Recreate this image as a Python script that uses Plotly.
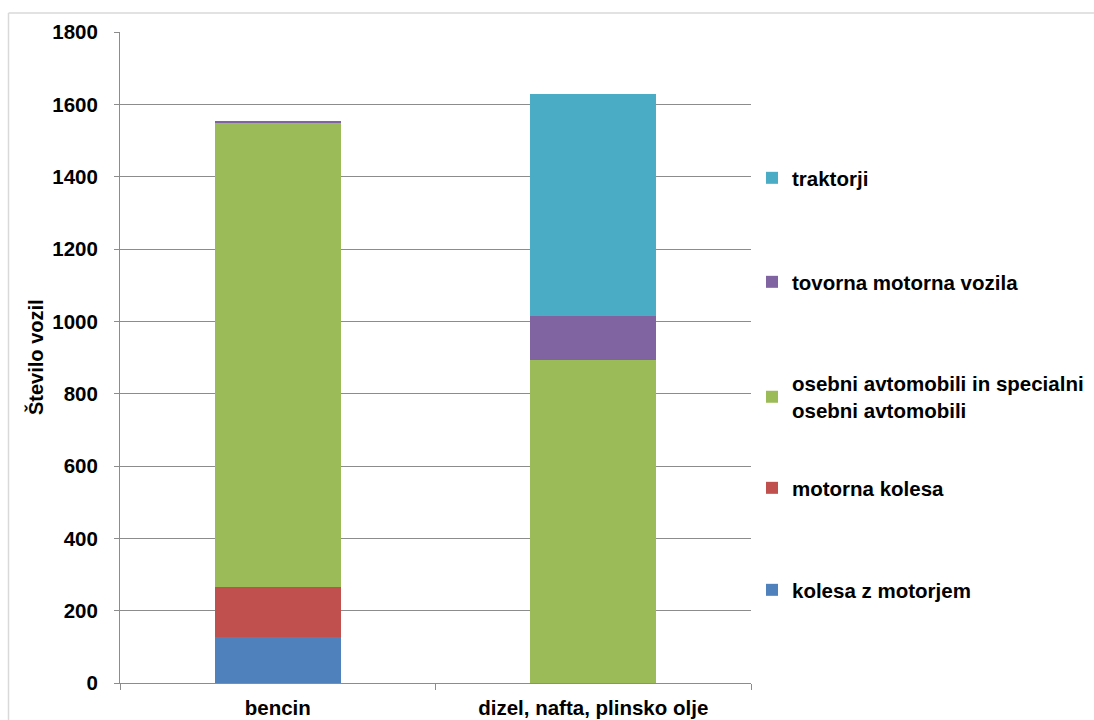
import plotly.graph_objects as go

# Data: number of vehicles by fuel type and vehicle class
categories = ["bencin", "dizel, nafta, plinsko olje"]
kolesa_z_motorjem = [126, 0]
motorna_kolesa = [139, 0]
osebni_avtomobili = [1284, 894]
tovorna_vozila = [5, 121]
traktorji = [0, 614]

series_names = [
    "kolesa z motorjem",
    "motorna kolesa",
    "osebni avtomobili in specialni<br>osebni avtomobili",
    "tovorna motorna vozila",
    "traktorji",
]
series_values = [kolesa_z_motorjem, motorna_kolesa, osebni_avtomobili, tovorna_vozila, traktorji]
series_colors = ["#4F81BD", "#C0504D", "#9BBB59", "#8064A2", "#4BACC6"]

y_tick_values = [0, 200, 400, 600, 800, 1000, 1200, 1400, 1600, 1800]
y_title = "Število vozil"

# Page geometry (pixels): the paper spans to the right page edge,
# the axes only occupy the left part of it so the legend fits beside them
W, H = 1094, 720
ML, MR, MT, MB = 120, 0, 32, 37
PW, PH = W - ML - MR, H - MT - MB
PLOT_RIGHT = 751


def px_x(px):
    return (px - ML) / PW


def px_y(py):
    return (H - MB - py) / PH


FONT = "Liberation Sans, Arial, sans-serif"
GRID = "#8c8c8c"
TXT = 20.5
LEG_TXT = 20.5

# Vertical centres of the separate legend entries
legend_centres = [590, 488, 397, 282, 178]

fig = go.Figure()
for i, (name, vals, col) in enumerate(zip(series_names, series_values, series_colors)):
    lg = "legend" if i == 0 else f"legend{i + 1}"
    fig.add_trace(go.Bar(
        x=categories, y=vals, name=name,
        marker=dict(color=col, line=dict(width=0)),
        legend=lg,
    ))

layout_legends = {}
for i, cy in enumerate(legend_centres):
    key = "legend" if i == 0 else f"legend{i + 1}"
    layout_legends[key] = dict(
        x=px_x(752), xanchor="left",
        y=px_y(cy), yanchor="middle",
        font=dict(family=FONT, size=LEG_TXT, color="#000000", weight="bold"),
        bgcolor="rgba(0,0,0,0)", borderwidth=0,
        itemwidth=30, itemclick=False,
    )

fig.update_layout(
    width=W, height=H,
    margin=dict(l=ML, r=MR, t=MT, b=MB, pad=0),
    paper_bgcolor="#ffffff", plot_bgcolor="#ffffff",
    barmode="stack", bargap=0.6,
    showlegend=True,
    font=dict(family=FONT, color="#000000"),
    xaxis=dict(
        domain=[0, px_x(PLOT_RIGHT)],
        showgrid=False, showline=True, linecolor=GRID, linewidth=1,
        ticks="outside", tickson="boundaries", ticklen=6, tickcolor=GRID,
        ticklabelstandoff=6,
        tickfont=dict(family=FONT, size=TXT, color="#000000", weight="bold"),
        automargin=False,
    ),
    yaxis=dict(
        range=[0, 1800], tickvals=y_tick_values,
        showgrid=True, gridcolor=GRID, gridwidth=1,
        showline=True, linecolor=GRID, linewidth=1,
        ticks="outside", ticklen=5, tickcolor=GRID,
        ticklabelstandoff=12,
        tickfont=dict(family=FONT, size=TXT, color="#000000", weight="bold"),
        zeroline=False, automargin=False,
    ),
    annotations=[
        dict(text=y_title, textangle=-90, xref="paper", yref="paper",
             x=px_x(35), y=px_y(357), xanchor="center", yanchor="middle",
             showarrow=False,
             font=dict(family=FONT, size=20, color="#000000", weight="bold")),
    ],
    shapes=[
        dict(type="line", xref="paper", yref="paper",
             x0=px_x(8.5), x1=px_x(1094), y0=px_y(13), y1=px_y(13),
             line=dict(color="#d9d9d9", width=1.5)),
        dict(type="line", xref="paper", yref="paper",
             x0=px_x(8.5), x1=px_x(8.5), y0=px_y(13), y1=px_y(720),
             line=dict(color="#d9d9d9", width=1.5)),
    ],
    **layout_legends,
)

fig.write_html("out.html")
